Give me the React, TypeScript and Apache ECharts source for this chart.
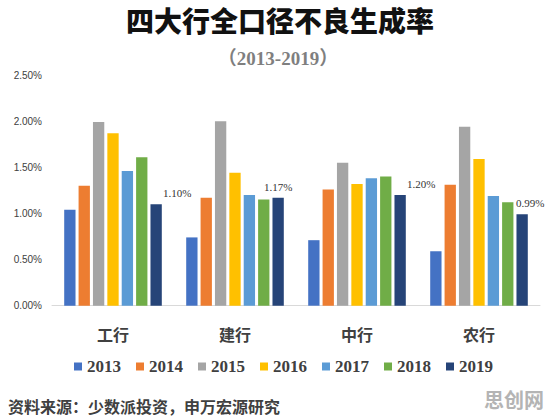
import React, { useEffect, useRef } from "react";
import * as echarts from "echarts";

const banks = ["工行", "建行", "中行", "农行"];
const years = ["2013", "2014", "2015", "2016", "2017", "2018", "2019"];
const v2013 = [1.04, 0.74, 0.71, 0.59];
const v2014 = [1.3, 1.17, 1.26, 1.31];
const v2015 = [1.99, 2.0, 1.55, 1.94];
const v2016 = [1.87, 1.44, 1.32, 1.59];
const v2017 = [1.46, 1.2, 1.38, 1.19];
const v2018 = [1.61, 1.15, 1.4, 1.12];
const v2019 = [1.1, 1.17, 1.2, 0.99];
const yTicks = [0, 0.5, 1, 1.5, 2, 2.5];

const seriesValues = [v2013, v2014, v2015, v2016, v2017, v2018, v2019];
const colors = ["#4472C4", "#ED7D31", "#A5A5A5", "#FFC000", "#5B9BD5", "#70AD47", "#264478"];
const labelShift = [21, 0, 21, 8];

export default function App() {
  const ref = useRef<HTMLDivElement>(null);
  useEffect(() => {
    document.body.style.margin = "0";
    if (!ref.current) return;
    const chart = echarts.init(ref.current, undefined, { renderer: "svg" });
    const series: any[] = seriesValues.map((vals, si) => {
      const isLast = si === seriesValues.length - 1;
      return {
        name: years[si],
        type: "bar",
        barGap: "27%",
        barCategoryGap: "20%",
        itemStyle: { color: colors[si] },
        data: isLast
          ? vals.map((v, i) => ({ value: v, label: { offset: [labelShift[i], 0] } }))
          : vals,
        label: isLast
          ? {
              show: true,
              position: "top",
              distance: 5.5,
              formatter: (p: any) => Number(p.value).toFixed(2) + "%",
              fontFamily: "Liberation Serif",
              fontSize: 11,
              color: "#333333",
            }
          : { show: false },
      };
    });
    chart.setOption({
      animation: false,
      backgroundColor: "#ffffff",
      grid: { left: 52, right: 10, top: 75, bottom: 113.3, containLabel: false },
      xAxis: {
        type: "category",
        data: banks,
        axisLine: { show: true, lineStyle: { color: "#d9d9d9", width: 1 } },
        axisTick: { show: false },
        axisLabel: {
          margin: 20,
          fontSize: 16,
          fontWeight: "bold",
          fontFamily: "Noto Sans CJK SC",
          color: "#404040",
        },
      },
      yAxis: {
        type: "value",
        min: yTicks[0],
        max: yTicks[yTicks.length - 1],
        interval: yTicks[1] - yTicks[0],
        axisLine: { show: false },
        axisTick: { show: false },
        splitLine: { show: false },
        axisLabel: {
          margin: 10,
          fontSize: 10,
          fontFamily: "Liberation Sans",
          color: "#404040",
          formatter: (v: number) => v.toFixed(2) + "%",
        },
      },
      legend: {
        data: years,
        left: 74,
        top: 358,
        padding: 0,
        icon: "rect",
        itemWidth: 8,
        itemHeight: 8,
        itemGap: 15,
        textStyle: {
          fontFamily: "Liberation Serif",
          fontWeight: "bold",
          fontSize: 17,
          color: "#404040",
        },
      },
      graphic: [
        {
          type: "text",
          x: 280,
          y: 20,
          style: {
            text: "四大行全口径不良生成率",
            align: "center",
            verticalAlign: "middle",
            fontFamily: "Noto Sans CJK SC",
            fontWeight: 900,
            fontSize: 28,
            fill: "#111111",
          },
        },
        {
          type: "text",
          x: 278,
          y: 58,
          style: {
            text: "（2013-2019）",
            align: "center",
            verticalAlign: "middle",
            fontFamily: "Liberation Serif, Noto Sans CJK SC",
            fontWeight: "bold",
            fontSize: 19,
            fill: "#7f7f7f",
          },
        },
        {
          type: "text",
          x: 8,
          y: 406,
          style: {
            text: "资料来源：少数派投资，申万宏源研究",
            align: "left",
            verticalAlign: "middle",
            fontFamily: "Noto Sans CJK SC",
            fontWeight: "bold",
            fontSize: 16,
            fill: "#404040",
          },
        },
        {
          type: "text",
          x: 514,
          y: 399,
          style: {
            text: "思创网",
            align: "center",
            verticalAlign: "middle",
            fontFamily: "Noto Sans CJK SC",
            fontWeight: "bold",
            fontSize: 20,
            fill: "#b4b4b4",
          },
        },
      ],
      series,
    });
    return () => chart.dispose();
  }, []);
  return <div ref={ref} style={{ width: 550, height: 419 }} />;
}
